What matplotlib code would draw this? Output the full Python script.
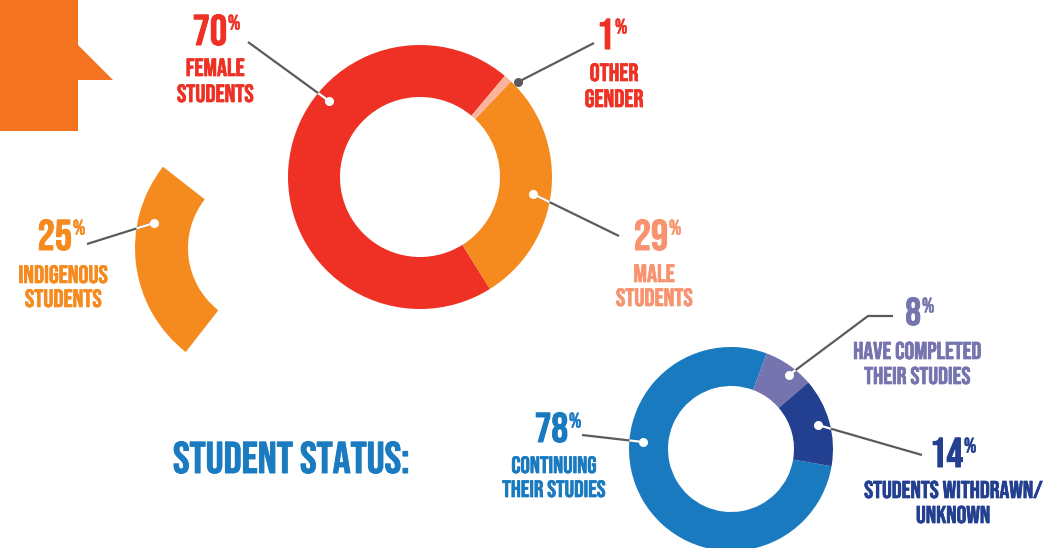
import numpy as np
import matplotlib.pyplot as plt
import matplotlib.patheffects as pe
from matplotlib.patches import Polygon

W, H = 1049, 548

# gender split (%)
gender_labels = ["FEMALE\nSTUDENTS", "MALE\nSTUDENTS", "OTHER\nGENDER"]
gender_values = [70, 29, 1]
gender_colors = ["#EE3124", "#F58A1F", "#F9B49B"]
gender_text = ["#EE3124", "#F7936F", "#EE3124"]

# indigenous share (%)
indigenous_label = "INDIGENOUS\nSTUDENTS"
indigenous_value = 25
indigenous_color = "#F58A1F"

# student status (%)
status_labels = ["CONTINUING\nTHEIR STUDIES", "HAVE COMPLETED\nTHEIR STUDIES",
                 "STUDENTS WITHDRAWN/\nUNKNOWN"]
status_values = [78, 8, 14]
status_colors = ["#1A7ABF", "#7574AE", "#233F8F"]

plt.rcParams['font.family'] = ['Bebas Neue', 'Oswald', 'DejaVu Sans']

GRAY = "#5B5B5F"
PX = 100 / 72  # px per pt
CAP = 0.7      # cap height / em

fig = plt.figure(figsize=(W / 100, H / 100), dpi=100)
ax = fig.add_axes([0, 0, 1, 1])


def p(x, y):
    # pixel position (origin top left) -> data coords
    return x, H - y


def bold(color, w=0.6):
    return [pe.withStroke(linewidth=w, foreground=color)]


# donuts
g_c, g_R, g_r = (420, 177), 132, 80
ax.pie(gender_values, colors=gender_colors, startangle=50, counterclock=True,
       center=p(*g_c), radius=g_R, wedgeprops=dict(width=g_R - g_r, linewidth=0))

i_c, i_R, i_r = (267, 248), 132, 79
wedges, _ = ax.pie([indigenous_value, 100 - indigenous_value],
                   colors=[indigenous_color, "white"], startangle=142,
                   center=p(*i_c), radius=i_R,
                   wedgeprops=dict(width=i_R - i_r, linewidth=0))
wedges[1].set_visible(False)

s_c, s_R, s_r = (731, 449), 102, 63
ax.pie(status_values, colors=status_colors, startangle=350.3, counterclock=False,
       center=p(*s_c), radius=s_R, wedgeprops=dict(width=s_R - s_r, linewidth=0))

# top-left arrow shape
ax.add_patch(Polygon([p(0, 0), p(78, 0), p(78, 45), p(113, 80), p(78, 80),
                      p(78, 131), p(0, 131)], closed=True, color="#F37321", lw=0))


def leader(pts, center, R, dot_color="white"):
    pts = np.array(pts, dtype=float)
    xs, ys = pts[:, 0], H - pts[:, 1]
    ax.plot(xs, ys, color=GRAY, lw=1.6, zorder=3, solid_capstyle='butt')
    d0 = pts[0] - np.array(center)
    if np.hypot(*d0) < R:
        v = pts[1] - pts[0]
        a, b, c = v @ v, 2 * d0 @ v, d0 @ d0 - R ** 2
        t = (-b + np.sqrt(b * b - 4 * a * c)) / (2 * a)
        q = pts[0] + t * v
        ax.plot([pts[0, 0], q[0]], [H - pts[0, 1], H - q[1]], color="white",
                lw=1.6, zorder=4, solid_capstyle='butt')
    ax.plot(xs[0], ys[0], 'o', ms=6.5, color=dot_color, mec='none', zorder=5)


def number(x_right, y_base, value, color, size=31, psize=15):
    ax.text(*p(x_right, y_base), str(value), ha='right', va='baseline',
            fontsize=size, color=color, path_effects=bold(color, 0.7))
    top = y_base - size * PX * CAP
    ax.text(*p(x_right + 1, top + psize * PX * CAP), "%", ha='left',
            va='baseline', fontsize=psize, color=color, path_effects=bold(color, 0.4))


def label(x, bases, text, color, size=18):
    for yy, line in zip(bases, text.split("\n")):
        ax.text(*p(x, yy), line, ha='center', va='baseline', fontsize=size,
                color=color, path_effects=bold(color, 0.5))


# gender labels
number(227, 45, gender_values[0], gender_text[0])
label(215, [76, 102], gender_labels[0], gender_text[0])
leader([(329, 101), (248, 42)], g_c, g_R)

number(668, 250, gender_values[1], gender_text[1])
label(654, [282, 306], gender_labels[1], gender_text[1])
leader([(533, 194), (619, 236)], g_c, g_R)

number(614, 49, gender_values[2], gender_text[2])
label(614, [81, 107], gender_labels[2], gender_text[2])
leader([(518, 82), (594, 43)], g_c, g_R, dot_color=GRAY)

# indigenous
number(72, 250, indigenous_value, indigenous_color)
label(63, [283, 307], indigenous_label, indigenous_color)
leader([(154, 223), (87, 244)], i_c, i_R)

# student status
ax.text(*p(173, 473), "STUDENT STATUS:", ha='left', va='baseline', fontsize=32,
        color="#1B7BC0", path_effects=bold("#1B7BC0", 0.7))

number(568, 442, status_values[0], status_colors[0], size=30)
label(554, [473, 497], status_labels[0], status_colors[0], size=17)
leader([(643, 442), (582, 435)], s_c, s_R)

number(921, 325, status_values[1], status_colors[1], size=28)
label(917, [359, 384], status_labels[1], status_colors[1], size=17.5)
leader([(789, 375), (868, 316), (893, 316)], s_c, s_R)

number(963, 467, status_values[2], status_colors[2], size=30)
label(953, [498, 523], status_labels[2], status_colors[2], size=17.5)
leader([(818, 425), (922, 455)], s_c, s_R)

ax.set_xlim(0, W)
ax.set_ylim(0, H)
ax.set_aspect('equal')
ax.axis('off')
fig.savefig("out.png", dpi=100)
